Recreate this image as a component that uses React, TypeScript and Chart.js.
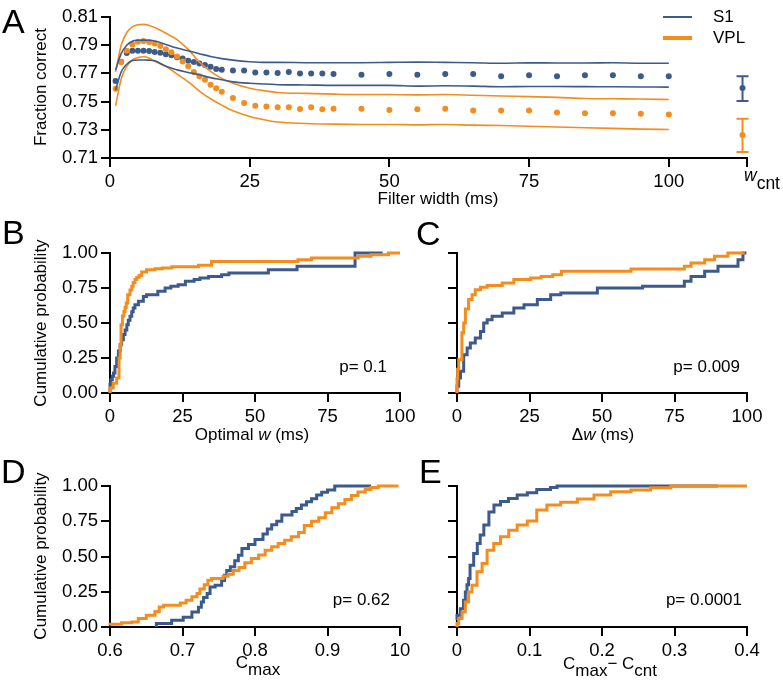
import React, { useEffect, useRef } from 'react';
import { Chart, registerables } from 'chart.js';

Chart.register(...registerables);

const W = 783;
const H = 689;
const BLUE = '#3d5a8c';
const ORANGE = '#f58c1e';
const FONT = '"Liberation Sans", Arial, Helvetica, sans-serif';

// ---------- Panel A data ----------
const A_DOT_X = [1, 2, 3, 4, 5, 6, 7, 8, 9, 10, 11, 12, 13, 14, 15, 16, 17, 18, 19, 20, 22, 24, 26, 28, 30, 32, 34, 36, 38, 40, 45, 50, 55, 60, 65, 70, 75, 80, 85, 90, 95, 100];
const A_S1_MEAN = [0.7646, 0.7782, 0.7845, 0.786, 0.786, 0.786, 0.7858, 0.7852, 0.7846, 0.7836, 0.7828, 0.7815, 0.7805, 0.779, 0.778, 0.777, 0.776, 0.7748, 0.7732, 0.7726, 0.772, 0.772, 0.7707, 0.7707, 0.7703, 0.771, 0.77, 0.77, 0.77, 0.7695, 0.769, 0.7695, 0.769, 0.7695, 0.7695, 0.768, 0.7686, 0.768, 0.7686, 0.7686, 0.768, 0.768];
const A_VPL_MEAN = [0.7592, 0.778, 0.786, 0.7905, 0.7925, 0.793, 0.7922, 0.7912, 0.7895, 0.7872, 0.785, 0.782, 0.7785, 0.775, 0.771, 0.768, 0.7655, 0.762, 0.7595, 0.757, 0.7526, 0.749, 0.747, 0.7465, 0.746, 0.746, 0.7448, 0.746, 0.7446, 0.745, 0.745, 0.7441, 0.7445, 0.745, 0.7436, 0.7436, 0.7436, 0.7422, 0.7418, 0.7418, 0.7413, 0.7408];
const A_BAND_X = [1, 2, 3, 4, 5, 6, 7, 8, 10, 12, 14, 16, 18, 20, 22, 25, 28, 30, 35, 40, 45, 50, 55, 60, 65, 70, 75, 80, 85, 90, 95, 100];
const A_S1_UPPER = [0.7725, 0.784, 0.79, 0.7928, 0.7935, 0.7936, 0.7935, 0.793, 0.7905, 0.788, 0.786, 0.784, 0.782, 0.7805, 0.7794, 0.7783, 0.7778, 0.7778, 0.7776, 0.7775, 0.7776, 0.7778, 0.778, 0.7778, 0.7776, 0.7772, 0.7775, 0.7774, 0.7774, 0.7775, 0.7772, 0.7772];
const A_S1_LOWER = [0.758, 0.771, 0.7765, 0.7792, 0.7795, 0.7795, 0.7794, 0.779, 0.775, 0.7725, 0.7707, 0.769, 0.767, 0.7655, 0.764, 0.763, 0.7625, 0.762, 0.7618, 0.7615, 0.7615, 0.7615, 0.761, 0.7612, 0.761, 0.7605, 0.7607, 0.7607, 0.7606, 0.7605, 0.7604, 0.7603];
const A_VPL_UPPER = [0.771, 0.79, 0.799, 0.803, 0.8045, 0.8048, 0.804, 0.8025, 0.7985, 0.794, 0.787, 0.778, 0.7715, 0.7665, 0.763, 0.7595, 0.7575, 0.7565, 0.7558, 0.7553, 0.755, 0.755, 0.7548, 0.755, 0.7545, 0.754, 0.7535, 0.753, 0.7522, 0.752, 0.7518, 0.7515];
const A_VPL_LOWER = [0.747, 0.766, 0.775, 0.7795, 0.7812, 0.7818, 0.781, 0.7785, 0.775, 0.7695, 0.764, 0.7575, 0.752, 0.7475, 0.7435, 0.7395, 0.7368, 0.7355, 0.7345, 0.734, 0.7338, 0.7338, 0.7335, 0.7338, 0.7333, 0.733, 0.7325, 0.732, 0.7315, 0.731, 0.7305, 0.7302];
const WCNT_X = 113.2;
const WCNT_S1 = [0.7596, 0.7505, 0.768]; // mean, low, high
const WCNT_VPL = [0.7264, 0.7142, 0.7378];
const A_X_TICKS = [0, 25, 50, 75, 100, 114];
const A_X_LABELS = ['0', '25', '50', '75', '100', ''];
const A_Y_TICKS = [0.71, 0.73, 0.75, 0.77, 0.79, 0.81];
const A_Y_LABELS = ['0.71', '0.73', '0.75', '0.77', '0.79', '0.81'];

// ---------- CDF panels shared ticks ----------
const P_TICKS = [0, 0.25, 0.5, 0.75, 1];
const P_LABELS = ['0.00', '0.25', '0.50', '0.75', '1.00'];
const W_TICKS = [0, 25, 50, 75, 100];
const W_LABELS = ['0', '25', '50', '75', '100'];
const D_X_TICKS = [0.6, 0.7, 0.8, 0.9, 1.0];
const D_X_LABELS = ['0.6', '0.7', '0.8', '0.9', '10'];
const E_X_TICKS = [0, 0.1, 0.2, 0.3, 0.4];
const E_X_LABELS = ['0', '0.1', '0.2', '0.3', '0.4'];

// ---------- Panel B (optimal w) ----------
const B_S1_X = [0, 0.3, 0.8, 1.2, 1.7, 2.3, 2.9, 3.5, 4.0, 4.6, 5.2, 5.8, 6.3, 6.9, 7.5, 8.0, 8.6, 9.8, 11.5, 12.6, 16.5, 19, 21, 23.5, 26, 29, 31, 34, 38.5, 41, 54.6, 64.5, 84.5, 89.8, 94];
const B_S1_P = [0, 0.06, 0.095, 0.12, 0.143, 0.19, 0.25, 0.3, 0.345, 0.38, 0.417, 0.45, 0.488, 0.52, 0.548, 0.58, 0.607, 0.631, 0.655, 0.69, 0.702, 0.726, 0.75, 0.762, 0.774, 0.798, 0.81, 0.821, 0.833, 0.845, 0.857, 0.881, 0.905, 1.0, 1.0];
const B_VPL_X = [0, 1.1, 2.3, 3.1, 3.5, 3.8, 4.3, 4.8, 5.2, 5.6, 6.1, 6.9, 7.5, 8.0, 8.6, 9.2, 10.0, 10.9, 12.6, 15.5, 18, 21.3, 30.5, 35, 64.8, 69.5, 85.6, 90, 96, 99.4, 100];
const B_VPL_P = [0, 0.036, 0.07, 0.107, 0.25, 0.345, 0.488, 0.55, 0.583, 0.61, 0.643, 0.702, 0.735, 0.762, 0.79, 0.81, 0.825, 0.84, 0.864, 0.881, 0.887, 0.893, 0.902, 0.912, 0.94, 0.952, 0.964, 0.976, 0.988, 1.0, 1.0];

// ---------- Panel C (delta w) ----------
const C_S1_X = [0, 0.6, 1.2, 2.3, 3.5, 4.6, 6.3, 8.1, 9.2, 10.4, 12.1, 15.6, 19.6, 23.1, 27.7, 32.3, 35.8, 48.4, 64, 78.4, 80.7, 85.4, 90, 96.9, 98.6, 99.8];
const C_S1_P = [0, 0.048, 0.107, 0.155, 0.274, 0.321, 0.357, 0.393, 0.44, 0.5, 0.524, 0.548, 0.571, 0.607, 0.631, 0.667, 0.702, 0.714, 0.75, 0.762, 0.798, 0.833, 0.869, 0.905, 0.952, 1.0];
const C_VPL_X = [0, 0.2, 0.6, 1.7, 2.3, 2.9, 4.0, 5.2, 6.3, 8.1, 10.4, 15.6, 19.6, 25.4, 29, 33, 36, 60, 78.4, 80.7, 85.4, 88.8, 93.4, 99.2];
const C_VPL_P = [0, 0.1, 0.17, 0.238, 0.43, 0.5, 0.6, 0.667, 0.702, 0.738, 0.755, 0.767, 0.786, 0.81, 0.821, 0.833, 0.845, 0.869, 0.886, 0.905, 0.929, 0.952, 0.976, 1.0];

// ---------- Panel D (C max) ----------
const D_S1_X = [0.664, 0.685, 0.701, 0.713, 0.722, 0.726, 0.729, 0.734, 0.738, 0.745, 0.754, 0.758, 0.761, 0.766, 0.772, 0.777, 0.782, 0.791, 0.8, 0.811, 0.817, 0.823, 0.83, 0.837, 0.851, 0.857, 0.864, 0.871, 0.878, 0.885, 0.892, 0.9, 0.91, 0.922, 0.96];
const D_S1_P = [0, 0.024, 0.047, 0.07, 0.107, 0.14, 0.178, 0.21, 0.237, 0.284, 0.296, 0.33, 0.367, 0.4, 0.427, 0.47, 0.509, 0.557, 0.585, 0.62, 0.66, 0.695, 0.725, 0.75, 0.794, 0.82, 0.841, 0.865, 0.889, 0.91, 0.936, 0.955, 0.972, 1.0, 1.0];
const D_VPL_X = [0.6, 0.616, 0.63, 0.639, 0.65, 0.662, 0.668, 0.674, 0.697, 0.705, 0.713, 0.72, 0.724, 0.73, 0.735, 0.74, 0.756, 0.763, 0.77, 0.778, 0.786, 0.795, 0.805, 0.814, 0.823, 0.832, 0.841, 0.85, 0.86, 0.868, 0.878, 0.888, 0.897, 0.906, 0.915, 0.924, 0.933, 0.942, 0.952, 0.96, 0.97, 0.998];
const D_VPL_P = [0.012, 0.02, 0.03, 0.036, 0.06, 0.083, 0.11, 0.142, 0.154, 0.17, 0.19, 0.215, 0.237, 0.27, 0.3, 0.332, 0.344, 0.36, 0.375, 0.4, 0.422, 0.455, 0.486, 0.51, 0.545, 0.57, 0.593, 0.615, 0.64, 0.67, 0.72, 0.75, 0.775, 0.81, 0.845, 0.875, 0.905, 0.932, 0.958, 0.975, 0.99, 1.0];

// ---------- Panel E (C max - C cnt) ----------
const E_S1_X = [0, 0.0046, 0.009, 0.0115, 0.0138, 0.016, 0.018, 0.023, 0.028, 0.032, 0.037, 0.044, 0.051, 0.06, 0.071, 0.083, 0.097, 0.11, 0.129, 0.138, 0.295, 0.36];
const E_S1_P = [0.047, 0.083, 0.13, 0.19, 0.249, 0.3, 0.344, 0.438, 0.521, 0.592, 0.652, 0.723, 0.815, 0.865, 0.89, 0.912, 0.936, 0.953, 0.976, 0.99, 1.0, 1.0];
const E_VPL_X = [0, 0.0023, 0.007, 0.0115, 0.016, 0.0207, 0.0276, 0.0346, 0.0415, 0.0507, 0.06, 0.0714, 0.083, 0.097, 0.11, 0.124, 0.143, 0.166, 0.189, 0.212, 0.24, 0.267, 0.295, 0.36, 0.4];
const E_VPL_P = [0, 0.024, 0.06, 0.107, 0.178, 0.249, 0.296, 0.391, 0.45, 0.545, 0.592, 0.64, 0.687, 0.723, 0.751, 0.829, 0.865, 0.884, 0.908, 0.936, 0.96, 0.972, 0.988, 1.0, 1.0];

type Area = { L: number; T: number; R: number; B: number };

function scale(axis: 'x' | 'y', min: number, max: number, vals: number[], labels: string[], area: Area) {
  return {
    type: 'linear',
    position: axis === 'x' ? 'bottom' : 'left',
    min,
    max,
    afterBuildTicks: (s: any) => {
      s.ticks = vals.map((v) => ({ value: v }));
    },
    afterFit: (s: any) => {
      if (axis === 'x') s.height = 60;
      else s.width = area.L;
    },
    ticks: {
      autoSkip: false,
      maxRotation: 0,
      minRotation: 0,
      padding: axis === 'x' ? 4 : 3,
      color: '#000',
      font: { family: FONT, size: 18.5 },
      callback: (_v: any, i: number) => labels[i] ?? '',
    },
    grid: {
      display: true,
      drawOnChartArea: false,
      drawTicks: true,
      tickLength: 9,
      tickWidth: 2,
      tickColor: '#000',
      color: '#000',
      lineWidth: 2,
    },
    border: { display: true, color: '#000', width: 2 },
  };
}

function options(area: Area, xs: any, ys: any) {
  return {
    responsive: false,
    animation: false,
    devicePixelRatio: 1,
    events: [],
    layout: { padding: { left: 0, top: area.T, right: W - area.R, bottom: H - area.B - 60 } },
    plugins: { legend: { display: false }, tooltip: { enabled: false } },
    scales: { x: xs, y: ys },
  };
}

const pts = (xs: number[], ys: number[]) => xs.map((x, i) => ({ x, y: ys[i] }));

function ecdf(xs: number[], ps: number[], color: string) {
  return {
    data: pts(xs, ps),
    showLine: true,
    stepped: 'after',
    borderColor: color,
    backgroundColor: color,
    borderWidth: 3,
    pointRadius: 0,
    clip: 6,
  };
}

function band(xs: number[], ys: number[], color: string) {
  return {
    data: pts(xs, ys),
    showLine: true,
    borderColor: color,
    backgroundColor: color,
    borderWidth: 1.6,
    pointRadius: 0,
    tension: 0.4,
    cubicInterpolationMode: 'monotone',
    clip: 6,
  };
}

function dots(xs: number[], ys: number[], color: string, r = 3) {
  return {
    data: pts(xs, ys),
    showLine: false,
    pointRadius: r,
    pointBorderWidth: 0,
    pointBackgroundColor: color,
    borderColor: color,
    backgroundColor: color,
    clip: false,
  };
}

const errorBars = {
  id: 'wcntErrorBars',
  afterDatasetsDraw(chart: any) {
    const { ctx, scales } = chart;
    const x = scales.x;
    const y = scales.y;
    const items: [number[], string][] = [
      [WCNT_S1, BLUE],
      [WCNT_VPL, ORANGE],
    ];
    items.forEach(([v, color]) => {
      const px = x.getPixelForValue(WCNT_X);
      const lo = y.getPixelForValue(v[1]);
      const hi = y.getPixelForValue(v[2]);
      ctx.save();
      ctx.strokeStyle = color;
      ctx.lineWidth = 2;
      ctx.beginPath();
      ctx.moveTo(px, lo);
      ctx.lineTo(px, hi);
      ctx.moveTo(px - 6, lo);
      ctx.lineTo(px + 6, lo);
      ctx.moveTo(px - 6, hi);
      ctx.lineTo(px + 6, hi);
      ctx.stroke();
      ctx.restore();
    });
  },
};

function configA() {
  const area = { L: 110, T: 17, R: 747, B: 158 };
  return {
    type: 'scatter',
    data: {
      datasets: [
        band(A_BAND_X, A_S1_UPPER, BLUE),
        band(A_BAND_X, A_S1_LOWER, BLUE),
        band(A_BAND_X, A_VPL_UPPER, ORANGE),
        band(A_BAND_X, A_VPL_LOWER, ORANGE),
        dots(A_DOT_X, A_VPL_MEAN, ORANGE),
        dots(A_DOT_X, A_S1_MEAN, BLUE),
        dots([WCNT_X], [WCNT_S1[0]], BLUE, 3),
        dots([WCNT_X], [WCNT_VPL[0]], ORANGE, 3),
      ],
    },
    options: options(
      area,
      scale('x', 0, 114, A_X_TICKS, A_X_LABELS, area),
      scale('y', 0.71, 0.81, A_Y_TICKS, A_Y_LABELS, area)
    ),
    plugins: [errorBars],
  };
}

function configCdf(
  area: Area,
  xmin: number,
  xmax: number,
  xt: number[],
  xl: string[],
  yl: string[],
  s1: [number[], number[]],
  vpl: [number[], number[]]
) {
  return {
    type: 'scatter',
    data: {
      datasets: [ecdf(vpl[0], vpl[1], ORANGE), ecdf(s1[0], s1[1], BLUE)],
    },
    options: options(area, scale('x', xmin, xmax, xt, xl, area), scale('y', 0, 1, P_TICKS, yl, area)),
  };
}

function ChartCanvas({ make }: { make: () => any }) {
  const ref = useRef<HTMLCanvasElement>(null);
  useEffect(() => {
    const chart = new Chart(ref.current as HTMLCanvasElement, make());
    return () => chart.destroy();
  }, []);
  return (
    <canvas
      ref={ref}
      width={W}
      height={H}
      style={{ position: 'absolute', left: 0, top: 0, width: W, height: H, pointerEvents: 'none' }}
    />
  );
}

function Txt({
  x,
  baseline,
  size = 17,
  align = 'left',
  children,
}: {
  x: number;
  baseline: number;
  size?: number;
  align?: 'left' | 'center' | 'right';
  children: React.ReactNode;
}) {
  const tx = align === 'center' ? 'translateX(-50%)' : align === 'right' ? 'translateX(-100%)' : undefined;
  return (
    <div
      style={{
        position: 'absolute',
        left: x,
        top: baseline - 0.8465 * size,
        fontFamily: FONT,
        fontSize: size,
        lineHeight: `${size}px`,
        whiteSpace: 'nowrap',
        color: '#000',
        transform: tx,
      }}
    >
      {children}
    </div>
  );
}

function VTxt({ cx, cy, children }: { cx: number; cy: number; children: React.ReactNode }) {
  return (
    <div
      style={{
        position: 'absolute',
        left: cx,
        top: cy,
        fontFamily: FONT,
        fontSize: 17,
        lineHeight: '17px',
        whiteSpace: 'nowrap',
        color: '#000',
        transform: 'translate(-50%, -50%) rotate(-90deg)',
      }}
    >
      {children}
    </div>
  );
}

const Sub = ({ children }: { children: React.ReactNode }) => (
  <span style={{ position: 'relative', top: '0.42em' }}>{children}</span>
);

export default function App() {
  const areaB = { L: 110, T: 253, R: 400, B: 393 };
  const areaC = { L: 457, T: 253, R: 747, B: 393 };
  const areaD = { L: 110, T: 486, R: 400, B: 627 };
  const areaE = { L: 457, T: 486, R: 747, B: 627 };
  return (
    <div style={{ position: 'absolute', left: 0, top: 0, width: W, height: H, background: '#fff', overflow: 'hidden' }}>
      <ChartCanvas make={configA} />
      <ChartCanvas make={() => configCdf(areaB, 0, 100, W_TICKS, W_LABELS, P_LABELS, [B_S1_X, B_S1_P], [B_VPL_X, B_VPL_P])} />
      <ChartCanvas make={() => configCdf(areaC, 0, 100, W_TICKS, W_LABELS, [], [C_S1_X, C_S1_P], [C_VPL_X, C_VPL_P])} />
      <ChartCanvas make={() => configCdf(areaD, 0.6, 1.0, D_X_TICKS, D_X_LABELS, P_LABELS, [D_S1_X, D_S1_P], [D_VPL_X, D_VPL_P])} />
      <ChartCanvas make={() => configCdf(areaE, 0, 0.4, E_X_TICKS, E_X_LABELS, [], [E_S1_X, E_S1_P], [E_VPL_X, E_VPL_P])} />

      {/* panel letters */}
      <Txt x={2} baseline={33} size={34}>A</Txt>
      <Txt x={2} baseline={244} size={34}>B</Txt>
      <Txt x={416} baseline={245} size={34}>C</Txt>
      <Txt x={1} baseline={483} size={34}>D</Txt>
      <Txt x={419} baseline={483} size={34}>E</Txt>

      {/* axis titles */}
      <VTxt cx={40} cy={87}>Fraction correct</VTxt>
      <VTxt cx={40} cy={323}>Cumulative probability</VTxt>
      <VTxt cx={40} cy={556}>Cumulative probability</VTxt>
      <Txt x={438} baseline={204} align="center">Filter width (ms)</Txt>
      <Txt x={252} baseline={440} align="center">
        Optimal <i>w</i> (ms)
      </Txt>
      <Txt x={603} baseline={440} align="center">
        Δ<i>w</i> (ms)
      </Txt>
      <Txt x={258} baseline={668} align="center">
        C<Sub>max</Sub>
      </Txt>
      <Txt x={610} baseline={669} align="center">
        C<Sub>max</Sub>− C<Sub>cnt</Sub>
      </Txt>
      <Txt x={744} baseline={182} size={17.5}>
        <i>w</i>
        <Sub>cnt</Sub>
      </Txt>

      {/* p values */}
      <Txt x={387} baseline={372} align="right">p= 0.1</Txt>
      <Txt x={740} baseline={372} align="right">p= 0.009</Txt>
      <Txt x={390} baseline={605} align="right">p= 0.62</Txt>
      <Txt x={742} baseline={605} align="right">p= 0.0001</Txt>

      {/* legend */}
      <div style={{ position: 'absolute', left: 663, top: 16, width: 29, height: 2, background: BLUE }} />
      <div style={{ position: 'absolute', left: 663, top: 36, width: 29, height: 3.5, background: ORANGE }} />
      <Txt x={713} baseline={22}>S1</Txt>
      <Txt x={713} baseline={43}>VPL</Txt>
    </div>
  );
}
